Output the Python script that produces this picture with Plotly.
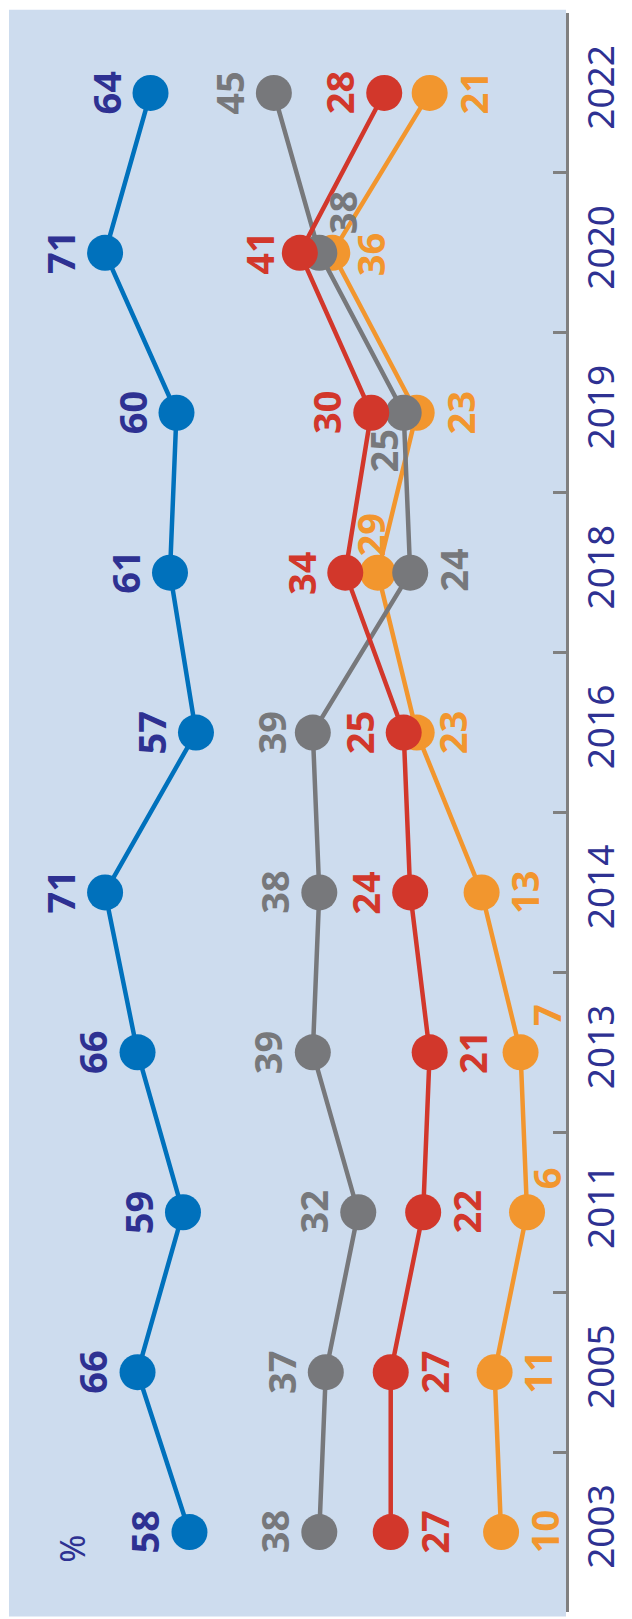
import plotly.graph_objects as go

# ---- data -------------------------------------------------------------
YEARS = ["2003", "2005", "2011", "2013", "2014", "2016", "2018", "2019", "2020", "2022"]
BLUE = [58, 66, 59, 66, 71, 57, 61, 60, 71, 64]
GREY = [38, 37, 32, 39, 38, 39, 24, 25, 38, 45]
RED = [27, 27, 22, 21, 24, 25, 34, 30, 41, 28]
ORANGE = [10, 11, 6, 7, 13, 23, 29, 23, 36, 21]

# ---- styling ----------------------------------------------------------
BG = "#cddcee"
NAVY = "#2e3192"
AXIS_GREY = "#808080"

# series drawn back to front: line colour, label colour, default label side
SERIES = [
    ("orange", ORANGE, "#f2962e", "#f2962e", "right"),
    ("grey", GREY, "#77787b", "#77787b", "left"),
    ("red", RED, "#d2372b", "#d2372b", ["right"] * 4 + ["left"] * 6),
    ("blue", BLUE, "#0071bc", NAVY, "left"),
]

LEFT_DX, RIGHT_DX = -45, 43
# label nudges (pixels) where points crowd each other
LABEL_NUDGE = {
    ("grey", "2016"): (-42, 0),
    ("grey", "2018"): (42, -3),
    ("grey", "2019"): (-21, 38),
    ("grey", "2020"): (23, -40),
    ("orange", "2011"): (19, -34),
    ("orange", "2013"): (26, -37),
    ("orange", "2016"): (35, 0),
    ("orange", "2018"): (-8, -38),
    ("orange", "2020"): (38, 2),
    ("red", "2020"): (-41, 0),
}

LABEL_FONT = dict(family="Noto Sans", size=38, weight="bold")

fig = go.Figure()
annotations = []

for name, values, color, label_color, side in SERIES:
    fig.add_trace(go.Scatter(
        x=values, y=YEARS, mode="lines+markers",
        line=dict(color=color, width=4.5),
        marker=dict(color=color, size=36, line=dict(width=0)),
        hoverinfo="skip", showlegend=False,
    ))
    for i, (year, v) in enumerate(zip(YEARS, values)):
        s = side[i] if isinstance(side, list) else side
        dx, dy = LABEL_NUDGE.get((name, year), (LEFT_DX if s == "left" else RIGHT_DX, 0))
        annotations.append(dict(
            x=v, y=i, xref="x", yref="y", text=str(v), showarrow=False,
            textangle=-90, xanchor="center", yanchor="middle",
            xshift=dx, yshift=-dy,
            font=dict(color=label_color, **LABEL_FONT),
        ))

# panel background, running a touch past the axis ends
shapes = [dict(
    type="rect", xref="paper", yref="paper", layer="below",
    x0=0, x1=1, y0=-0.0028, y1=1.002,
    fillcolor=BG, line=dict(width=0),
)]

annotations.append(dict(
    x=0.113, y=0.0395, xref="paper", yref="paper", text="%",
    showarrow=False, textangle=-90, xanchor="center", yanchor="middle",
    font=dict(family="Noto Sans", size=34, color=NAVY),
))

fig.update_layout(
    width=632, height=1619,
    margin=dict(l=9, r=55, t=13, b=7),
    paper_bgcolor="white", plot_bgcolor=BG,
    shapes=shapes, annotations=annotations,
    xaxis=dict(range=[85.8, 0], visible=False, fixedrange=True),
    yaxis=dict(
        type="category", categoryorder="array", categoryarray=YEARS,
        range=[-0.5, 9.5], side="right",
        tickson="boundaries", ticks="inside", ticklen=13, tickwidth=2.5,
        tickcolor=AXIS_GREY, showline=True, linecolor=AXIS_GREY, linewidth=2.5,
        tickangle=-90, ticklabelstandoff=1,
        tickfont=dict(family="Noto Sans", size=37, color=NAVY),
        showgrid=False, zeroline=False, fixedrange=True,
    ),
)

fig.write_html("out.html")
